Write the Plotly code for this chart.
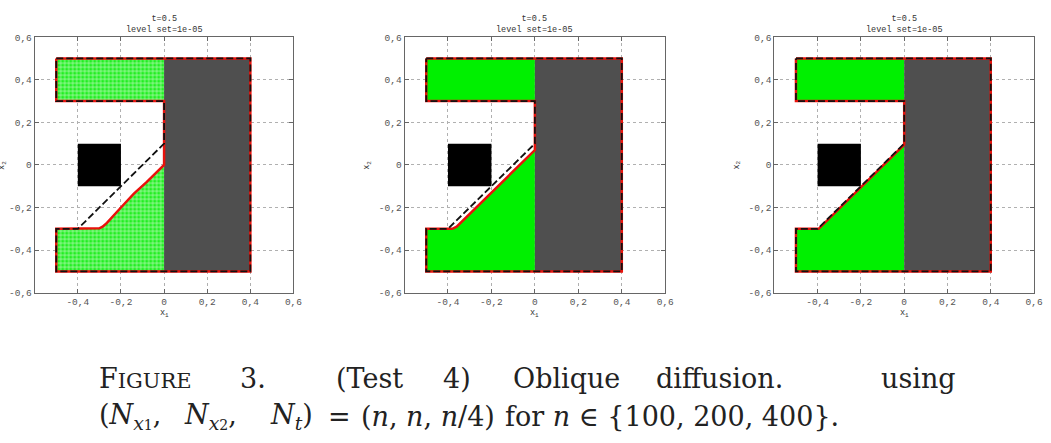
import plotly.graph_objects as go

W, H = 1051, 443

# ---------------- data ----------------
tick_vals = [-0.6, -0.4, -0.2, 0.0, 0.2, 0.4, 0.6]
x_tick_text = ["", "-0,4", "-0,2", "0", "0,2", "0,4", "0,6"]
y_tick_text = ["-0,6", "-0,4", "-0,2", "0", "0,2", "0,4", "0,6"]

# computational domain boundary (dashed black)
domain_x = [-0.5, 0.4, 0.4, -0.5, -0.5, -0.4, 0.0, 0.0, -0.5, -0.5]
domain_y = [0.5, 0.5, -0.5, -0.5, -0.3, -0.3, 0.1, 0.3, 0.3, 0.5]

# dark grey block (right part)
grey_x = [0.0, 0.4, 0.4, 0.0, 0.0]
grey_y = [-0.5, -0.5, 0.5, 0.5, -0.5]

# black obstacle square
square_x = [-0.4, -0.2, -0.2, -0.4, -0.4]
square_y = [-0.1, -0.1, 0.1, 0.1, -0.1]

# upper green arm
upper_x = [-0.5, 0.0, 0.0, -0.5, -0.5]
upper_y = [0.3, 0.3, 0.5, 0.5, 0.3]

# level-set fronts of the lower green region, for n = 100, 200, 400
n_values = [100, 200, 400]
front_x = [
    [-0.5, -0.32, -0.30, -0.285, -0.265, -0.20, -0.14, -0.08, -0.03, 0.0],
    [-0.5, -0.38, -0.36, 0.0],
    [-0.5, -0.395, 0.0],
]
front_y = [
    [-0.3, -0.3, -0.298, -0.29, -0.272, -0.20, -0.135, -0.08, -0.03, 0.0],
    [-0.3, -0.3, -0.29, 0.07],
    [-0.3, -0.3, 0.095],
]

titles = ["t=0.5<br>level set=1e-05"] * 3

# ---------------- layout geometry (pixels) ----------------
panels_px = [(35, 296), (408, 671), (781, 1043)]
top_px, bot_px = 33, 295

GREEN = "#00f000"
GREY = "#4f4f4f"

fig = go.Figure()

for i, (fx, fy) in enumerate(zip(front_x, front_y)):
    xa = "x" if i == 0 else f"x{i+1}"
    ya = "y" if i == 0 else f"y{i+1}"

    low_x = [-0.5, 0.0] + fx[::-1] + [-0.5]
    low_y = [-0.5, -0.5] + fy[::-1] + [-0.5]

    fill_kw = dict(fill="toself", mode="lines", line=dict(width=0),
                   fillcolor=GREEN, hoverinfo="skip", showlegend=False,
                   xaxis=xa, yaxis=ya)
    if i == 0:
        fill_kw["fillpattern"] = dict(shape="+", size=4, solidity=0.28,
                                      fgcolor="#ffffff", fgopacity=0.8,
                                      bgcolor="#22ee22", fillmode="replace")
    fig.add_trace(go.Scatter(x=upper_x, y=upper_y, **fill_kw))
    fig.add_trace(go.Scatter(x=low_x, y=low_y, **fill_kw))

    fig.add_trace(go.Scatter(x=grey_x, y=grey_y, fill="toself", mode="lines",
                             line=dict(width=0), fillcolor=GREY,
                             hoverinfo="skip", showlegend=False,
                             xaxis=xa, yaxis=ya))
    fig.add_trace(go.Scatter(x=square_x, y=square_y, fill="toself", mode="lines",
                             line=dict(width=0), fillcolor="#000000",
                             hoverinfo="skip", showlegend=False,
                             xaxis=xa, yaxis=ya))

    red_x = [-0.5, 0.4, 0.4, -0.5] + fx + [0.0, -0.5, -0.5]
    red_y = [0.5, 0.5, -0.5, -0.5] + fy + [0.3, 0.3, 0.5]
    fig.add_trace(go.Scatter(x=red_x, y=red_y, mode="lines",
                             line=dict(color="#e8120c", width=2.5),
                             hoverinfo="skip", showlegend=False,
                             xaxis=xa, yaxis=ya))
    fig.add_trace(go.Scatter(x=domain_x, y=domain_y, mode="lines",
                             line=dict(color="#111111", width=1.8, dash="7px,3px"),
                             hoverinfo="skip", showlegend=False,
                             xaxis=xa, yaxis=ya))

layout = dict(
    width=W, height=H,
    margin=dict(l=0, r=0, t=0, b=0),
    paper_bgcolor="white", plot_bgcolor="white",
    showlegend=False,
)

axis_common = dict(
    range=[-0.6, 0.6], tickvals=tick_vals, showgrid=True,
    gridcolor="#b0b0b0", griddash="dot", gridwidth=1,
    showline=True, linecolor="#666666", linewidth=1, mirror="ticks",
    ticks="inside", ticklen=4, tickcolor="#666666", zeroline=False,
    tickfont=dict(family="Liberation Mono", size=9.5, color="#555555"),
    fixedrange=True,
)

for i, (l, r) in enumerate(panels_px):
    sx = "" if i == 0 else str(i + 1)
    layout[f"xaxis{sx}"] = dict(axis_common, domain=[l / W, r / W],
                                ticktext=x_tick_text, anchor=f"y{sx}")
    layout[f"yaxis{sx}"] = dict(axis_common,
                                domain=[1 - bot_px / H, 1 - top_px / H],
                                ticktext=y_tick_text, anchor=f"x{sx}")

fig.update_layout(**layout)

annotations = []
small = dict(family="Liberation Mono", size=8.5, color="#333333")
for i, (l, r) in enumerate(panels_px):
    cx = (l + r) / 2
    annotations.append(dict(x=cx / W, y=1 - 20 / H, xref="paper", yref="paper",
                            text=titles[i], showarrow=False, font=small,
                            xanchor="center", yanchor="middle"))
    annotations.append(dict(x=cx / W, y=1 - 316 / H, xref="paper", yref="paper",
                            text="x<sub>1</sub>", showarrow=False, font=small,
                            xanchor="center", yanchor="middle"))
    lx = max(l - 37, 3)
    annotations.append(dict(x=lx / W, y=1 - 164 / H, xref="paper", yref="paper",
                            text="x<sub>2</sub>", showarrow=False, font=small,
                            textangle=-90, xanchor="center", yanchor="middle"))

cap_font = dict(family="DejaVu Serif", size=27, color="#222222")
line1 = [
    (98, "F<span style='font-size:21px'>IGURE</span>"),
    (240, "3."),
    (337, "(Test"),
    (445, "4)"),
    (515, "Oblique"),
    (660, "diffusion."),
    (887, "using"),
]
for px, txt in line1:
    annotations.append(dict(x=px / W, y=1 - 383 / H, xref="paper", yref="paper",
                            text=txt, showarrow=False, font=cap_font,
                            xanchor="left", yanchor="middle"))
line2 = [
    (98, "(<i>N</i><sub><i>x</i><span style='font-size:14px'>1</span></sub>,"),
    (184, "<i>N</i><sub><i>x</i><span style='font-size:14px'>2</span></sub>,"),
    (270, "<i>N</i><sub><i>t</i></sub>)"),
    (329, "="),
    (362, "(<i>n</i>, <i>n</i>, <i>n</i>/4)"),
    (507, "for <i>n</i> ∈ {100, 200, 400}."),
]
for px, txt in line2:
    annotations.append(dict(x=px / W, y=1 - 422 / H, xref="paper", yref="paper",
                            text=txt, showarrow=False, font=cap_font,
                            xanchor="left", yanchor="middle"))

fig.update_layout(annotations=annotations)
fig.write_html("out.html")
